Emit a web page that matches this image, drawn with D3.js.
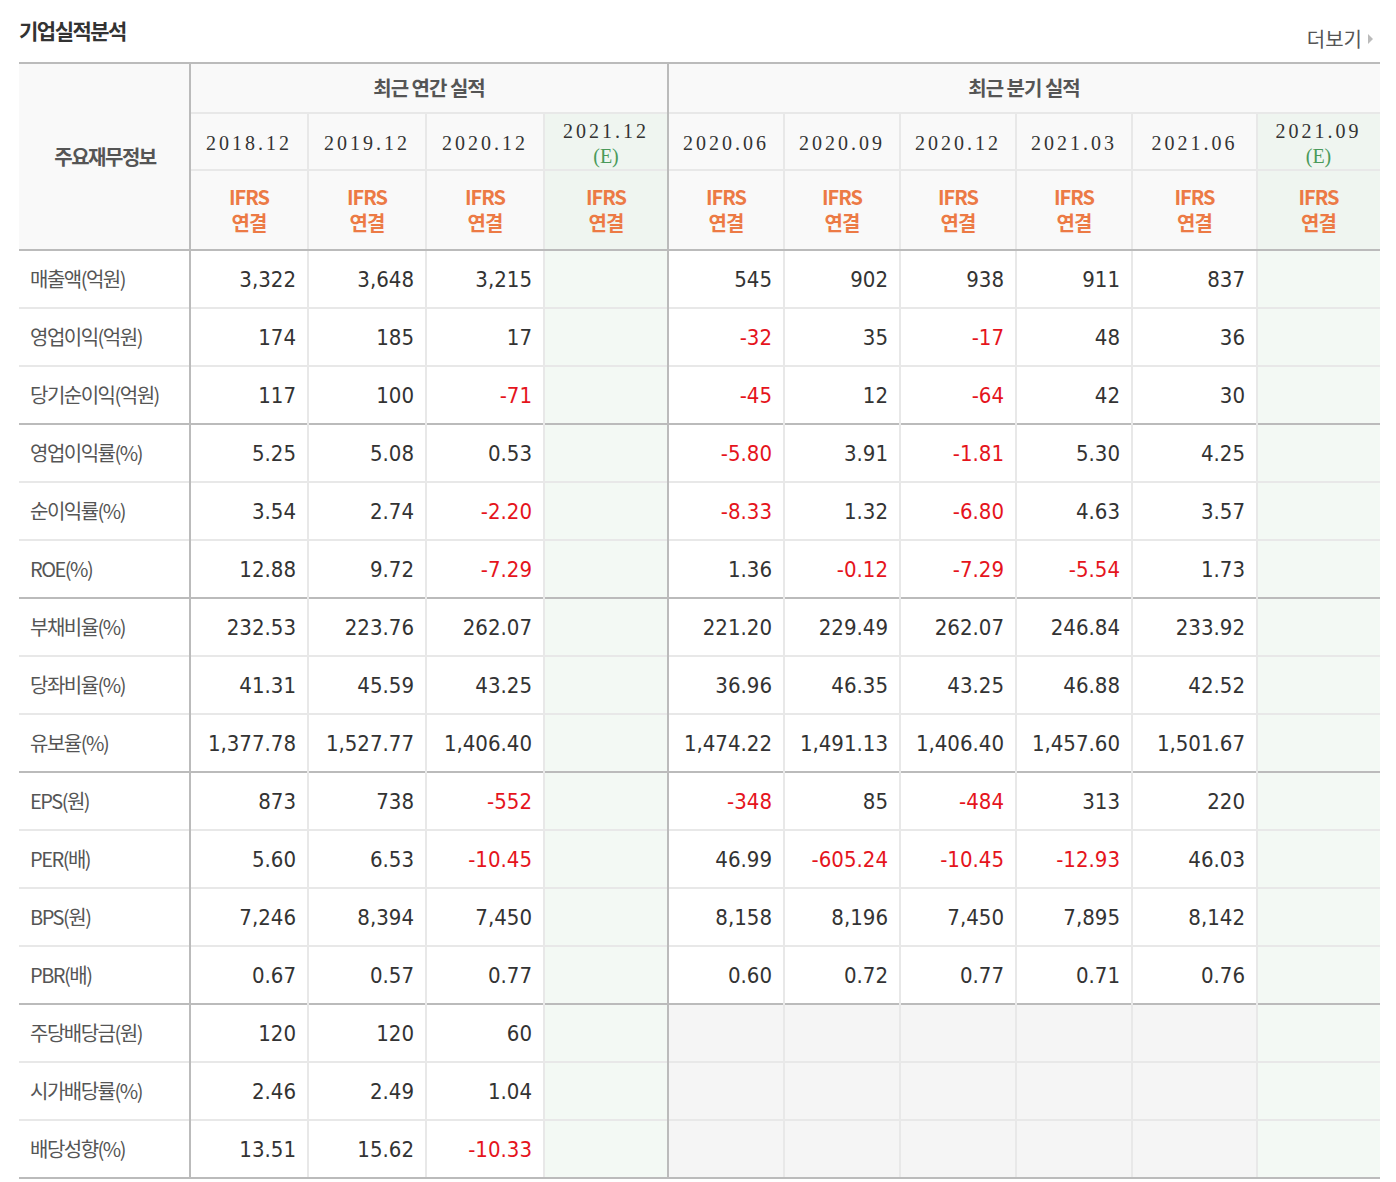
<!DOCTYPE html>
<html><head><meta charset="utf-8">
<script src="https://cdn.jsdelivr.net/npm/d3@7"></script>
<style>
body{margin:0;background:#fff}
.kr{font-family:"Noto Sans CJK KR",sans-serif}
.num{font-family:"DejaVu Sans Condensed","Liberation Sans Narrow",sans-serif}
.date{font-family:"Liberation Serif","DejaVu Serif",serif;letter-spacing:3px}
</style></head>
<body><svg id="tbl" width="1396" height="1182"></svg>
<script>
var groups = ["최근 연간 실적", "최근 분기 실적"]
var periods = ["2018.12","2019.12","2020.12","2021.12","2020.06","2020.09","2020.12","2021.03","2021.06","2021.09"]
var estimated = [false,false,false,true,false,false,false,false,false,true]
var rowLabels = ["매출액(억원)","영업이익(억원)","당기순이익(억원)","영업이익률(%)","순이익률(%)","ROE(%)",
    "부채비율(%)","당좌비율(%)","유보율(%)","EPS(원)","PER(배)","BPS(원)","PBR(배)","주당배당금(원)","시가배당률(%)","배당성향(%)"]
var annualValues = [
    ["3,322","3,648","3,215"],["174","185","17"],["117","100","-71"],
    ["5.25","5.08","0.53"],["3.54","2.74","-2.20"],["12.88","9.72","-7.29"],
    ["232.53","223.76","262.07"],["41.31","45.59","43.25"],["1,377.78","1,527.77","1,406.40"],
    ["873","738","-552"],["5.60","6.53","-10.45"],["7,246","8,394","7,450"],["0.67","0.57","0.77"],
    ["120","120","60"],["2.46","2.49","1.04"],["13.51","15.62","-10.33"]]
var quarterValues = [
    ["545","902","938","911","837"],["-32","35","-17","48","36"],["-45","12","-64","42","30"],
    ["-5.80","3.91","-1.81","5.30","4.25"],["-8.33","1.32","-6.80","4.63","3.57"],["1.36","-0.12","-7.29","-5.54","1.73"],
    ["221.20","229.49","262.07","246.84","233.92"],["36.96","46.35","43.25","46.88","42.52"],
    ["1,474.22","1,491.13","1,406.40","1,457.60","1,501.67"],
    ["-348","85","-484","313","220"],["46.99","-605.24","-10.45","-12.93","46.03"],
    ["8,158","8,196","7,450","7,895","8,142"],["0.60","0.72","0.77","0.71","0.76"],
    [null,null,null,null,null],[null,null,null,null,null],[null,null,null,null,null]]
var sectionBreaks = [3, 6, 9, 13]

var svg = d3.select("#tbl")
var colEdges = [19,190,308,426,544,668,784,900,1016,1132,1257,1380]
var headTop = 63, hGroup = 113, hDate = 170, hBody = 250, rowH = 58
var colX = i => colEdges[i+1], colW = i => colEdges[i+2] - colEdges[i+1]
var y = d3.scaleLinear().domain([0, rowLabels.length]).range([hBody, hBody + rowH * rowLabels.length])

svg.append("text").attr("class","kr").attr("x",19).attr("y",39).attr("font-size",21)
    .attr("font-weight","bold").attr("fill","#333").attr("letter-spacing",-1.5).text("기업실적분석")
svg.append("text").attr("class","kr").attr("x",1362).attr("y",47).attr("text-anchor","end")
    .attr("font-size",20).attr("fill","#555").text("더보기")
svg.append("path").attr("d","M1368,34 l5,5 l-5,5z").attr("fill","#bbb")

// header background
svg.append("rect").attr("x",19).attr("y",headTop).attr("width",1361).attr("height",hBody-headTop).attr("fill","#f9f9f9")
periods.forEach((p,i) => {
    if (estimated[i]) svg.append("rect").attr("x",colX(i)).attr("y",hGroup).attr("width",colW(i))
        .attr("height",hBody-hGroup).attr("fill","#eff5f0")
})
// body backgrounds
rowLabels.forEach((r,ri) => {
    periods.forEach((p,i) => {
        var fill = estimated[i] ? "#f3f9f4" : (i>=4 && quarterValues[ri][i-4]==null ? "#f5f5f5" : "#fff")
        svg.append("rect").attr("x",colX(i)).attr("y",y(ri)).attr("width",colW(i)).attr("height",rowH).attr("fill",fill)
    })
})

var thin = "#e8e8e8", thick = "#bbb"
svg.append("line").attr("x1",190).attr("x2",1380).attr("y1",hGroup).attr("y2",hGroup).attr("stroke",thin).attr("stroke-width",2)
svg.append("line").attr("x1",190).attr("x2",1380).attr("y1",hDate).attr("y2",hDate).attr("stroke",thin).attr("stroke-width",2)
rowLabels.forEach((r,ri) => {
    if (ri==0) return
    var isBreak = sectionBreaks.includes(ri)
    svg.append("line").attr("x1",19).attr("x2",1380).attr("y1",y(ri)).attr("y2",y(ri))
        .attr("stroke",isBreak?thick:thin).attr("stroke-width",2)
})
periods.forEach((p,i) => {
    if (i==0 || i==4) return
    svg.append("line").attr("x1",colX(i)).attr("x2",colX(i)).attr("y1",hGroup).attr("y2",y(rowLabels.length))
        .attr("stroke",thin).attr("stroke-width",2)
})
;[190,668].forEach(xx => svg.append("line").attr("x1",xx).attr("x2",xx).attr("y1",headTop).attr("y2",y(rowLabels.length))
    .attr("stroke",thick).attr("stroke-width",2))
;[headTop,hBody,y(rowLabels.length)].forEach(yy => svg.append("line").attr("x1",19).attr("x2",1380)
    .attr("y1",yy).attr("y2",yy).attr("stroke",thick).attr("stroke-width",2))

// header text
svg.append("text").attr("class","kr").attr("x",105).attr("y",165).attr("text-anchor","middle")
    .attr("font-size",20).attr("font-weight","bold").attr("fill","#555").attr("letter-spacing",-1.5).text("주요재무정보")
groups.forEach((g,gi) => {
    var x0 = gi==0?190:668, x1 = gi==0?668:1380
    svg.append("text").attr("class","kr").attr("x",(x0+x1)/2).attr("y",96).attr("text-anchor","middle")
        .attr("font-size",20).attr("font-weight","bold").attr("fill","#555").attr("letter-spacing",-1).text(g)
})
periods.forEach((p,i) => {
    var cx = colX(i) + colW(i)/2
    if (estimated[i]) {
        svg.append("text").attr("class","date").attr("x",cx).attr("y",138).attr("text-anchor","middle")
            .attr("font-size",20).attr("fill","#333").text(p)
        svg.append("text").attr("class","date").attr("x",cx).attr("y",163).attr("text-anchor","middle")
            .attr("font-size",20).attr("fill","#4a9a5a").style("letter-spacing","0px").text("(E)")
    } else {
        svg.append("text").attr("class","date").attr("x",cx).attr("y",150).attr("text-anchor","middle")
            .attr("font-size",20).attr("fill","#333").text(p)
    }
    svg.append("text").attr("class","kr").attr("x",cx).attr("y",205).attr("text-anchor","middle")
        .attr("font-size",20).attr("font-weight","bold").attr("fill","#ec7a45").attr("letter-spacing",-1).text("IFRS")
    svg.append("text").attr("class","kr").attr("x",cx).attr("y",231).attr("text-anchor","middle")
        .attr("font-size",20).attr("font-weight","bold").attr("fill","#ec7a45").attr("letter-spacing",-1).text("연결")
})

// body text
rowLabels.forEach((r,ri) => {
    var cy = y(ri) + rowH/2 + 8
    svg.append("text").attr("class","kr").attr("x",30).attr("y",cy).attr("font-size",20)
        .attr("fill","#555").attr("letter-spacing",-1.5).text(r)
    var vals = annualValues[ri].concat([null]).concat(quarterValues[ri]).concat([null])
    vals.forEach((v,i) => {
        if (v==null) return
        svg.append("text").attr("class","num").attr("x",colX(i)+colW(i)-12).attr("y",cy)
            .attr("text-anchor","end").attr("font-size",22)
            .attr("fill",v.startsWith("-")?"#e5141c":"#333").text(v)
    })
})
</script></body></html>
